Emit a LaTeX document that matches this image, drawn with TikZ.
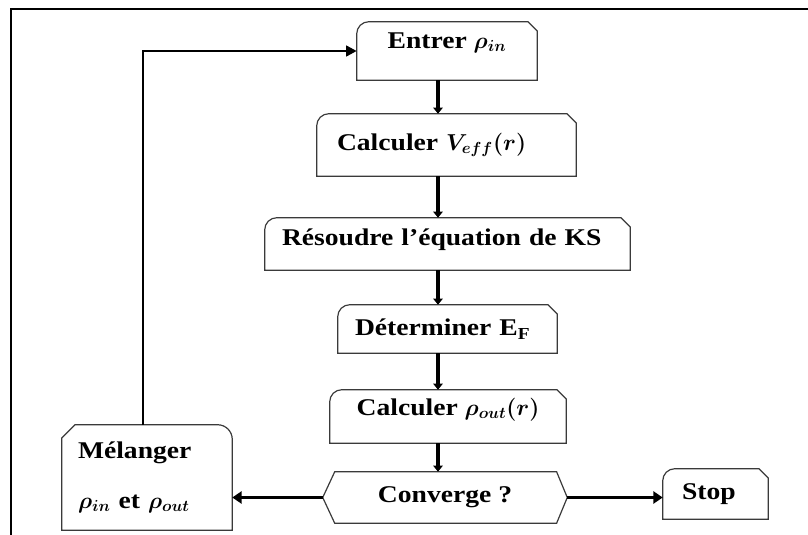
\documentclass[tikz,border=0pt]{standalone}
\usepackage{fontspec}
\setmainfont{Liberation Serif}[FakeStretch=1.15]
\usepackage{amsmath}
\usepackage{bm}
\usetikzlibrary{arrows.meta,calc}
\definecolor{edge}{HTML}{3A3A3A}
\tikzset{
  box/.style={draw=none, align=center, inner ysep=2pt, font=\bfseries\fontsize{18}{22}\selectfont},
  outline/.style={draw=edge, line width=0.9pt},
  frame/.style={draw=black, line width=1.4pt},
  arrow/.style={-{Triangle[length=4.5pt,width=7pt]}, line width=2.7pt},
  bigarrow/.style={-{Triangle[length=7pt,width=9pt]}, line width=2.8pt},
  looparrow/.style={-{Triangle[length=8pt,width=8pt]}, line width=1.9pt}
}
% rounded top left, snipped top right
\newcommand{\roundsnip}[1]{%
  \draw[outline] (#1.south west) -- ([yshift=-9pt]#1.north west)
    arc[start angle=180, end angle=90, radius=9pt]
    -- ([xshift=-7pt]#1.north east) -- ([yshift=-7pt]#1.north east)
    -- (#1.south east) -- cycle;}
% snipped top left, rounded top right
\newcommand{\sniprounded}[1]{%
  \draw[outline] (#1.south west) -- ([yshift=-10pt]#1.north west)
    -- ([xshift=10pt]#1.north west) -- ([xshift=-11pt]#1.north east)
    arc[start angle=90, end angle=0, radius=11pt]
    -- (#1.south east) -- cycle;}
\newcommand{\hexframe}[1]{%
  \draw[outline] (#1.west) -- ([xshift=9pt]#1.north west)
    -- ([xshift=-8pt]#1.north east) -- (#1.east)
    -- ([xshift=-8pt]#1.south east) -- ([xshift=9pt]#1.south west) -- cycle;}

\begin{document}
\begin{tikzpicture}[x=0.75pt, y=-0.75pt]
  \useasboundingbox (0,0) rectangle (808,535);
  \draw[frame] (808,9) -- (11,9) -- (11,535);

  \node[box, minimum width=135pt, minimum height=43.5pt, text depth=16pt] (entrer) at (447,51) {Entrer $\bm{\rho_{in}}$};
  \node[box, align=left, text width=164.25pt, inner xsep=15pt, minimum height=46.5pt] (veff) at (446.5,145) {Calculer $\bm{V_{eff}(r)}$};
  \node[box, align=left, text width=248.25pt, inner xsep=12.75pt, minimum height=39pt, text depth=10pt] (resoudre) at (447.5,244) {Résoudre l’équation de KS};
  \node[box, align=left, text width=138.75pt, inner xsep=12.75pt, minimum height=36pt] (ef) at (447.5,329) {Déterminer E\textsubscript{F}};
  \node[box, minimum width=177pt, minimum height=39.75pt, text depth=15pt] (rhoout) at (448,416.5) {Calculer $\bm{\rho_{out}(r)}$};
  \node[box, minimum width=183pt, minimum height=38.25pt] (conv) at (445,497.5) {Converge ?};
  \node[box, align=left, text width=50.25pt, inner xsep=14.25pt, minimum height=37.5pt] (stop) at (715.5,494) {Stop};
  \node[box, align=left, text width=103.5pt, inner xsep=12pt, minimum height=78.75pt] (melanger) at (147,477.5) {Mélanger\\[15pt]$\bm{\rho_{in}}$ et $\bm{\rho_{out}}$};

  \roundsnip{entrer}
  \roundsnip{veff}
  \roundsnip{resoudre}
  \roundsnip{ef}
  \roundsnip{rhoout}
  \roundsnip{stop}
  \sniprounded{melanger}
  \hexframe{conv}

  \coordinate (spine) at (438,0);
  \draw[arrow] (entrer.south -| spine) -- (veff.north -| spine);
  \draw[arrow] (veff.south -| spine) -- (resoudre.north -| spine);
  \draw[arrow] (resoudre.south -| spine) -- (ef.north -| spine);
  \draw[arrow] (ef.south -| spine) -- (rhoout.north -| spine);
  \draw[arrow] (rhoout.south -| spine) -- (conv.north -| spine);
  \draw[bigarrow] (conv.west) -- (conv.west -| melanger.east);
  \draw[bigarrow] (conv.east) -- (conv.east -| stop.west);
  \draw[looparrow] ([xshift=-3pt]melanger.north) |- (entrer.west);
\end{tikzpicture}
\end{document}
